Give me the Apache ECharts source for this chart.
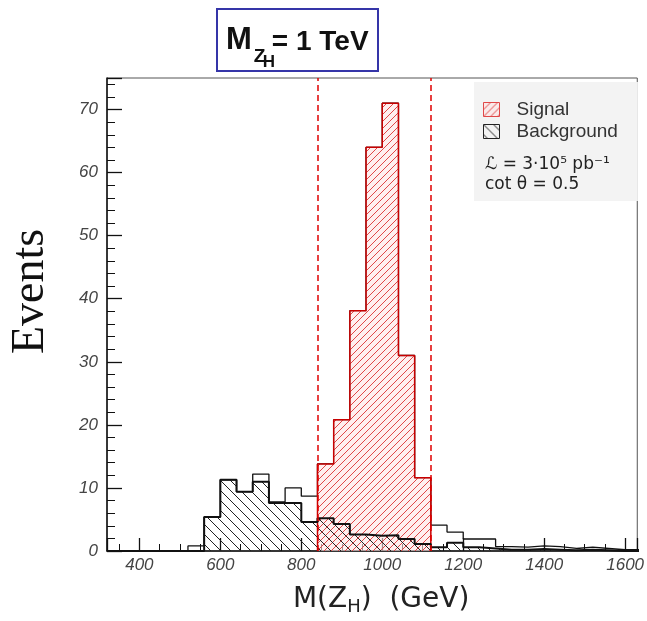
<!DOCTYPE html>
<html>
<head>
<meta charset="utf-8">
<script src="https://cdn.jsdelivr.net/npm/echarts@6/dist/echarts.min.js"></script>
<style>
html, body { margin: 0; padding: 0; background: #fff; }
#chart { width: 647px; height: 621px; }
</style>
</head>
<body>
<div id="chart"></div>
<script>
// bin edges (GeV), 40 GeV bins
const binEdges = [320, 360, 400, 440, 480, 520, 560, 600, 640, 680, 720, 760, 800,
    840, 880, 920, 960, 1000, 1040, 1080, 1120, 1160, 1200, 1240, 1280, 1320,
    1360, 1400, 1440, 1480, 1520, 1560, 1600, 1640];
// total (signal + background), unfilled outline
const totalVals = [0, 0, 0, 0, 0, 0.8, 5.4, 11.3, 9.4, 12.2, 7.8, 10.0, 8.7,
    13.8, 20.8, 38.1, 64.0, 71.0, 31.0, 11.6, 4.1, 3.0, 1.9, 1.9, 0.7, 0.6,
    0.8, 0.7, 0.4, 0.6, 0.4, 0.2, 0.2];
// background, black hatch
const bkgVals = [0, 0, 0, 0, 0, 0, 5.4, 11.3, 9.4, 11.0, 7.6, 7.6, 4.6,
    5.2, 4.3, 2.6, 2.4, 2.5, 1.9, 1.1, 0.6, 1.3, 0.6, 0.4, 0.2, 0.2,
    0.3, 0.2, 0.1, 0.2, 0.1, 0, 0];
// signal inside the mass window, red hatch
const sigEdges = [840, 880, 920, 960, 1000, 1040, 1080, 1120];
const sigVals = [13.8, 20.8, 38.1, 64.0, 71.0, 31.0, 11.6];
const massWindow = [840, 1120];

function stepData(edges, vals, closed) {
    let pts = [];
    if (closed) pts.push([edges[0], 0]);
    for (let i = 0; i < vals.length; i++) pts.push([edges[i], vals[i]]);
    pts.push([edges[vals.length], vals[vals.length - 1]]);
    if (closed) pts.push([edges[vals.length], 0]);
    return pts;
}

function hatch(color, size, forward, bg) {
    let c = document.createElement('canvas');
    c.width = size; c.height = size;
    let g = c.getContext('2d');
    if (bg) { g.fillStyle = bg; g.fillRect(0, 0, size, size); }
    g.strokeStyle = color;
    g.lineWidth = 1;
    g.beginPath();
    if (forward) {
        g.moveTo(-1, size + 1); g.lineTo(size + 1, -1);
        g.moveTo(-1, 1); g.lineTo(1, -1);
        g.moveTo(size - 1, size + 1); g.lineTo(size + 1, size - 1);
    } else {
        g.moveTo(-1, -1); g.lineTo(size + 1, size + 1);
        g.moveTo(size - 1, -1); g.lineTo(size + 1, 1);
        g.moveTo(-1, size - 1); g.lineTo(1, size + 1);
    }
    g.stroke();
    return c;
}

const redHatch = { image: hatch('#e04848', 7, true, 'rgba(255,228,228,0.6)'), repeat: 'repeat' };
const blackHatch = { image: hatch('#222', 10, false), repeat: 'repeat' };

var chart = echarts.init(document.getElementById('chart'));
var titleFont = 'Liberation Sans';
var option = {
    backgroundColor: '#fff',
    animation: false,
    title: [{
        left: 217,
        top: 9,
        text: '{m|M}{z|Z}{h|H}{e|= 1 TeV}',
        padding: [16, 10, 0, 9],
        borderColor: '#3535a8',
        borderWidth: 2,
        backgroundColor: '#fff',
        textStyle: {
            rich: {
                m: { fontSize: 31, fontWeight: 'bold', color: '#111', fontFamily: titleFont, lineHeight: 34, verticalAlign: 'top' },
                z: { fontSize: 19, color: '#111', fontFamily: titleFont, lineHeight: 20, verticalAlign: 'top', padding: [22, 0, 0, 2], width: 9 },
                h: { fontSize: 17, color: '#111', fontFamily: titleFont, lineHeight: 11, verticalAlign: 'top', padding: [29, 0, 0, 0], width: 9 },
                e: { fontSize: 28, fontWeight: 'bold', color: '#111', fontFamily: titleFont, lineHeight: 34, verticalAlign: 'top', padding: [3, 0, 0, 0] }
            }
        }
    }, {
        left: 480,
        top: 150,
        text: 'ℒ = 3·10⁵ pb⁻¹\ncot θ = 0.5',
        textStyle: { fontSize: 17, lineHeight: 20, fontWeight: 'normal', color: '#222', fontFamily: 'DejaVu Sans' }
    }],
    legend: {
        orient: 'vertical',
        left: 474,
        top: 82,
        itemWidth: 16,
        itemHeight: 14,
        itemGap: 3,
        padding: [18, 20, 60, 9],
        backgroundColor: '#f3f3f3',
        textStyle: { fontSize: 19, color: '#333', fontFamily: 'Liberation Sans', padding: [0, 0, 0, 12] },
        data: [
            { name: 'Signal', icon: 'rect', itemStyle: { color: redHatch, borderColor: '#e04848', borderWidth: 1 } },
            { name: 'Background', icon: 'rect', itemStyle: { color: blackHatch, borderColor: '#222', borderWidth: 1 } }
        ]
    },
    grid: {
        left: 105,
        top: 78,
        width: 533,
        height: 473,
        show: true,
        borderColor: '#555',
        borderWidth: 1
    },
    xAxis: {
        type: 'value',
        min: 320,
        max: 1630,
        splitNumber: 6,
        name: '{a|M(Z}{s|H}{a|)  (GeV)}',
        nameLocation: 'middle',
        nameGap: 33,
        nameTextStyle: {
            padding: [0, 0, 0, 18],
            rich: {
                a: { fontSize: 28, color: '#222', fontFamily: 'DejaVu Sans', lineHeight: 32 },
                s: { fontSize: 18, color: '#222', fontFamily: 'DejaVu Sans', verticalAlign: 'bottom', lineHeight: 18 }
            }
        },
        axisLine: { lineStyle: { color: '#111', width: 1.5 } },
        axisTick: { inside: true, length: 13, lineStyle: { color: '#111', width: 1.3 } },
        minorTick: { show: true, splitNumber: 4, length: 7, lineStyle: { color: '#111', width: 1 } },
        axisLabel: {
            fontSize: 17, fontStyle: 'italic', color: '#444', margin: 6,
            showMinLabel: false, showMaxLabel: false, fontFamily: 'Liberation Sans',
            formatter: v => String(v)
        },
        splitLine: { show: false }
    },
    yAxis: {
        type: 'value',
        min: 0,
        max: 75,
        interval: 10,
        name: 'Events',
        nameLocation: 'middle',
        nameGap: 53,
        nameRotate: 90,
        nameTextStyle: { fontSize: 46, fontFamily: 'Liberation Serif', color: '#111', padding: [0, 0, 0, 46] },
        axisLine: { lineStyle: { color: '#111', width: 1.5 } },
        axisTick: { inside: true, length: 15, lineStyle: { color: '#111', width: 1.3 } },
        minorTick: { show: true, splitNumber: 5, length: 8, lineStyle: { color: '#111', width: 1 } },
        axisLabel: { fontSize: 17, fontStyle: 'italic', color: '#444', margin: 9, showMaxLabel: false, fontFamily: 'Liberation Sans' },
        splitLine: { show: false }
    },
    series: [{
        name: 'Total',
        type: 'line',
        step: 'end',
        symbol: 'none',
        data: stepData(binEdges, totalVals, false),
        lineStyle: { color: '#111', width: 1.3 },
        z: 2
    }, {
        name: 'Signal',
        type: 'line',
        step: 'end',
        symbol: 'none',
        data: stepData(sigEdges, sigVals, true),
        lineStyle: { color: '#c80000', width: 1.5 },
        areaStyle: { color: redHatch, opacity: 1 },
        z: 3,
        markLine: {
            silent: true,
            symbol: ['none', 'none'],
            label: { show: false },
            lineStyle: { color: '#e00000', type: [6, 4], width: 1.5 },
            data: massWindow.map(v => ({ xAxis: v }))
        }
    }, {
        name: 'Background',
        type: 'line',
        step: 'end',
        symbol: 'none',
        data: stepData(binEdges, bkgVals, false),
        lineStyle: { color: '#111', width: 2 },
        areaStyle: { color: blackHatch, opacity: 1 },
        z: 4
    }]
};
chart.setOption(option);
</script>
</body>
</html>
